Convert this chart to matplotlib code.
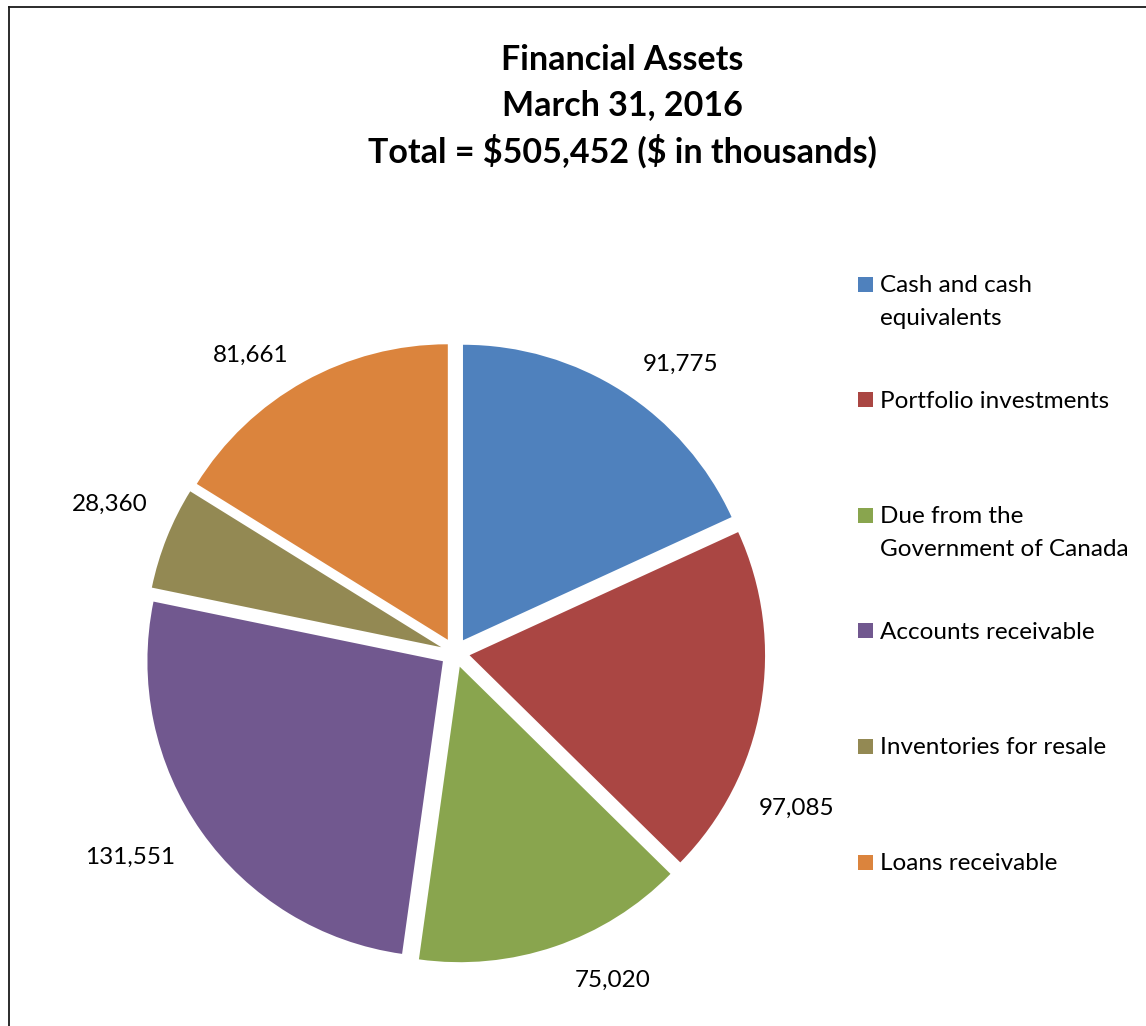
import numpy as np
import matplotlib
matplotlib.use("Agg")
import matplotlib.pyplot as plt
from matplotlib.lines import Line2D
from matplotlib.patches import Rectangle

plt.rcParams["font.family"] = ["Lato", "DejaVu Sans"]

# Financial assets at March 31, 2016 ($ in thousands)
categories = [
    "Cash and cash\nequivalents",
    "Portfolio investments",
    "Due from the\nGovernment of Canada",
    "Accounts receivable",
    "Inventories for resale",
    "Loans receivable",
]
values = [91775, 97085, 75020, 131551, 28360, 81661]
colors = ["#4F81BD", "#AA4643", "#89A54E", "#71588F", "#938953", "#DB843D"]

title_lines = ["Financial Assets", "March 31, 2016",
               "Total = \\${:,} (\\$ in thousands)".format(sum(values))]

# layout (pixel units, y up)
W, H = 1146, 1026
center = (455, 1026 - 652.7)
radius = 295.5
gap = 0.05 * radius  # how far each slice is pulled out
# per-slice tweak of the data label placement: (angle shift in deg, distance / radius)
label_adjust = [(-5.4, 1.24), (-14.5, 1.27), (7.0, 1.23), (-3.0, 1.30), (-1.5, 1.27), (5.4, 1.22)]

fig = plt.figure(figsize=(W / 100, H / 100), dpi=100)
ax = fig.add_axes([0, 0, 1, 1])

wedges, _ = ax.pie(values, colors=colors, startangle=90, counterclock=False,
                   center=center, radius=radius, explode=[gap] * len(values),
                   wedgeprops=dict(linewidth=0))
ax.set_xlim(0, W)
ax.set_ylim(0, H)
ax.set_aspect("equal")
ax.axis("off")

# data labels outside each slice
for w, v, (dang, dist) in zip(wedges, values, label_adjust):
    ang = np.deg2rad((w.theta1 + w.theta2) / 2 + dang)
    x = center[0] + dist * radius * np.cos(ang)
    y = center[1] + dist * radius * np.sin(ang)
    ax.text(x, y, "{:,}".format(v), ha="center", va="center", fontsize=17.5, color="black")

# title
for i, line in enumerate(title_lines):
    ax.text(622, H - 60 - i * 45.5, line, ha="center", va="center",
            fontsize=24.5, fontweight="bold", color="black")

# legend on the right
for i, (lab, c) in enumerate(zip(categories, colors)):
    yc = H - (284 + i * 115.6)
    ax.add_patch(Rectangle((858, yc - 7.5), 15, 15, facecolor=c, edgecolor="none"))
    ax.text(880, yc + 9, lab, ha="left", va="top", fontsize=17.5,
            linespacing=1.7, color="black")

# chart area border (left and top edges)
fig.add_artist(Line2D([8.5 / W, 8.5 / W], [0, 1 - 7 / H], transform=fig.transFigure,
                      color="#1a1a1a", linewidth=1.3))
fig.add_artist(Line2D([8.5 / W, 1], [1 - 7 / H, 1 - 7 / H], transform=fig.transFigure,
                      color="#1a1a1a", linewidth=1.3))

fig.savefig("out.png", dpi=100, facecolor="white")
